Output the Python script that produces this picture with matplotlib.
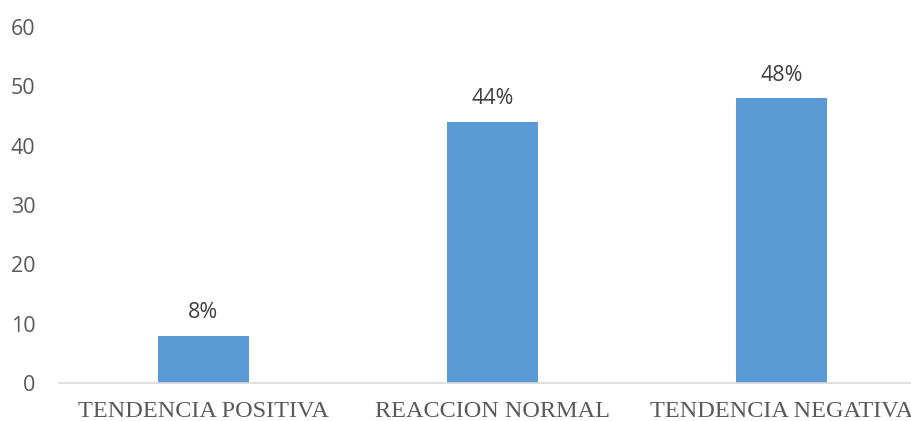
import matplotlib
matplotlib.use('Agg')
import matplotlib.pyplot as plt

# data
categorias = ['TENDENCIA POSITIVA', 'REACCION NORMAL', 'TENDENCIA NEGATIVA']
valores = [8, 44, 48]
etiquetas = ['8%', '44%', '48%']
y_ticks = [0, 10, 20, 30, 40, 50, 60]

fig = plt.figure(figsize=(9.12, 4.21), dpi=100)
# axes extends past right edge like the original crop
ax = fig.add_axes([59 / 912, 38 / 421, 867 / 912, 356 / 421])
x = list(range(len(categorias)))
bars = ax.bar(x, valores, width=0.315, color='#5B9BD5', zorder=2)

ax.set_xlim(-0.5, 2.5)
ax.set_ylim(0, 60)
ax.set_yticks(y_ticks)
ax.set_yticklabels([str(t) for t in y_ticks], fontsize=15.5, family='Open Sans', color='#595959')
ax.set_xticks(x)
ax.set_xticklabels(categorias, fontsize=17.5, family='Liberation Serif', color='#595959')
ax.tick_params(axis='both', length=0)
ax.tick_params(axis='y', pad=17)
ax.tick_params(axis='x', pad=13)

for s in ['top', 'right', 'left']:
    ax.spines[s].set_visible(False)
ax.spines['bottom'].set_color('#D9D9D9')
ax.spines['bottom'].set_linewidth(1.2)

for b, lab in zip(bars, etiquetas):
    ax.annotate(lab, (b.get_x() + b.get_width() / 2, b.get_height()),
                xytext=(0, 9), textcoords='offset points', ha='center', va='bottom',
                fontsize=15.5, family='Open Sans', color='#404040')

fig.savefig('out.png', dpi=100)
